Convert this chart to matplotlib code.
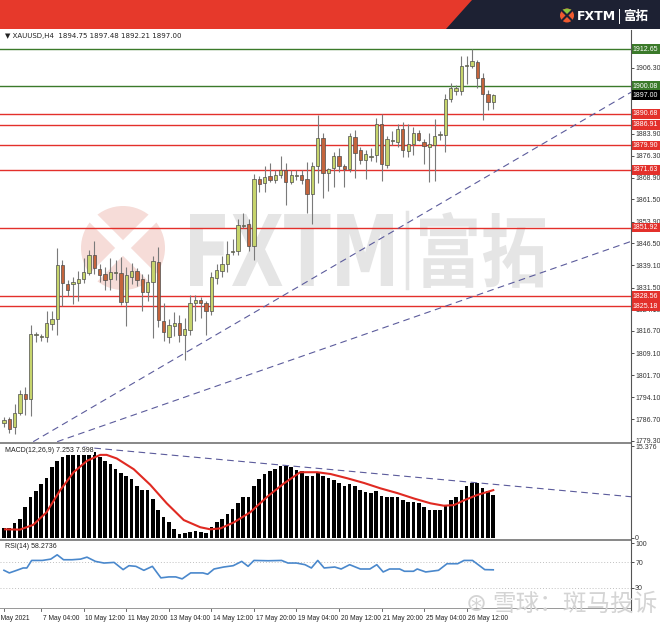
import matplotlib

matplotlib.use("Agg")
import matplotlib.pyplot as plt
from matplotlib.font_manager import FontProperties
from matplotlib.lines import Line2D
from matplotlib.patches import Circle, PathPatch, Polygon, Rectangle
from matplotlib.textpath import TextPath
from matplotlib.transforms import Affine2D, IdentityTransform

W, H = 660, 623

# XAUUSD H4 candles, 6 May 00:00 .. 27 May
opens = [1785.5, 1786.8, 1784.0, 1788.6, 1795.3, 1793.7, 1815.4, 1814.6, 1814.6, 1819.0,
         1820.8, 1839.0, 1832.8, 1832.8, 1833.1, 1834.3, 1836.4, 1842.5, 1837.9, 1836.2,
         1834.3, 1836.5, 1836.4, 1826.7, 1835.1, 1837.0, 1834.5, 1830.1, 1833.3, 1840.2,
         1820.2, 1814.8, 1818.3, 1819.4, 1815.3, 1817.2, 1826.2, 1827.3, 1826.2, 1823.6,
         1834.8, 1837.0, 1839.4, 1843.6, 1843.8, 1852.6, 1853.3, 1845.8, 1868.4, 1867.0,
         1869.5, 1868.1, 1869.7, 1871.6, 1867.6, 1869.4, 1869.9, 1868.4, 1863.3, 1872.8,
         1882.5, 1870.5, 1872.2, 1876.2, 1872.8, 1871.7, 1882.8, 1878.3, 1874.8, 1876.1,
         1876.6, 1887.1, 1873.2, 1881.5, 1881.1, 1885.4, 1877.9, 1880.4, 1884.2, 1881.1,
         1879.4, 1880.0, 1883.5, 1883.6, 1895.6, 1898.3, 1898.3, 1907.0, 1907.0, 1908.4,
         1903.0, 1897.3, 1894.75]
highs = [1787.5, 1787.5, 1791.8, 1796.5, 1797.5, 1818.6, 1816.5, 1815.6, 1823.5, 1823.5,
         1845.0, 1841.0, 1834.2, 1835.0, 1837.0, 1841.5, 1844.3, 1847.4, 1839.5, 1838.4,
         1841.5, 1840.9, 1841.9, 1838.5, 1839.7, 1838.0, 1836.0, 1836.2, 1842.4, 1845.2,
         1826.2, 1820.7, 1823.3, 1822.2, 1821.0, 1828.8, 1829.0, 1828.2, 1827.0, 1836.8,
         1839.5, 1842.4, 1847.4, 1848.0, 1854.8, 1857.0, 1854.8, 1870.3, 1869.5, 1872.9,
         1873.9, 1871.6, 1876.4, 1874.0, 1871.6, 1871.5, 1871.6, 1874.2, 1874.3, 1890.4,
         1884.2, 1872.3, 1877.8, 1879.0, 1873.5, 1884.2, 1885.0, 1879.2, 1878.5, 1879.0,
         1889.4, 1890.5, 1883.0, 1884.8, 1887.3, 1887.7, 1887.3, 1886.1, 1885.0, 1882.2,
         1884.0, 1889.0, 1884.8, 1897.3, 1901.3, 1900.3, 1910.4, 1910.5, 1912.65, 1909.0,
         1904.5, 1898.9, 1897.48]
lows = [1784.1, 1782.0, 1781.6, 1788.0, 1788.0, 1787.7, 1813.0, 1813.3, 1812.8, 1817.0,
        1815.2, 1825.2, 1828.5, 1826.0, 1827.0, 1833.0, 1835.8, 1836.0, 1833.3, 1830.8,
        1830.8, 1834.0, 1825.4, 1818.3, 1832.6, 1832.0, 1823.4, 1827.0, 1814.3, 1818.0,
        1813.3, 1812.5, 1815.1, 1812.9, 1806.7, 1815.3, 1820.2, 1821.0, 1815.5, 1822.0,
        1832.6, 1835.2, 1836.9, 1842.5, 1842.5, 1851.8, 1844.0, 1841.0, 1864.2, 1864.0,
        1867.4, 1867.0, 1868.9, 1859.7, 1866.6, 1868.0, 1866.6, 1857.0, 1853.0, 1867.0,
        1862.0, 1864.3, 1865.9, 1870.8, 1865.9, 1870.7, 1868.9, 1873.5, 1868.4, 1874.5,
        1874.1, 1867.9, 1872.3, 1880.0, 1879.4, 1875.8, 1875.8, 1876.5, 1881.5, 1873.6,
        1867.5, 1867.9, 1881.7, 1877.6, 1894.6, 1897.2, 1897.2, 1900.9, 1906.3, 1899.6,
        1888.4, 1892.0, 1892.21]
closes = [1786.3, 1783.4, 1788.6, 1795.1, 1793.6, 1815.6, 1815.8, 1814.8, 1819.4, 1820.8,
          1839.1, 1833.0, 1830.8, 1833.5, 1834.5, 1836.9, 1842.5, 1838.0, 1835.8, 1833.9,
          1836.9, 1836.7, 1826.6, 1835.6, 1837.0, 1833.9, 1830.1, 1833.5, 1840.4, 1820.4,
          1816.2, 1818.8, 1819.4, 1815.3, 1817.4, 1826.3, 1827.3, 1826.2, 1823.6, 1835.1,
          1837.4, 1839.6, 1842.8, 1843.9, 1852.8, 1852.9, 1845.8, 1868.4, 1866.6, 1869.3,
          1868.1, 1869.9, 1871.6, 1867.6, 1869.9, 1869.6, 1868.1, 1863.3, 1872.8, 1882.5,
          1870.5, 1872.0, 1876.2, 1872.8, 1871.7, 1883.1, 1877.3, 1874.8, 1877.1, 1876.3,
          1887.1, 1873.4, 1882.2, 1881.7, 1885.4, 1878.2, 1880.4, 1884.2, 1881.9, 1879.6,
          1880.3, 1883.1, 1883.7, 1895.6, 1899.6, 1899.4, 1907.0, 1907.3, 1908.7, 1902.9,
          1897.3, 1894.8, 1897.00]

green_levels = [1912.65, 1900.08]
red_levels = [1890.68, 1886.91, 1879.90, 1871.63, 1851.92, 1828.56, 1825.18]
last_price = 1897.00
price_ticks = [1906.30, 1883.90, 1876.30, 1868.90, 1861.50, 1853.90, 1846.50, 1839.10,
               1831.50, 1824.10, 1816.70, 1809.10, 1801.70, 1794.10, 1786.70, 1779.30]

trend_a_x = [5.5, 117.9]
trend_a_y = [1779.0, 1898.0]
trend_b_x = [10.0, 117.9]
trend_b_y = [1779.0, 1847.2]

macd_hist = [1.62, 1.62, 2.45, 3.1, 5.2, 6.8, 7.9, 9.0, 10.0, 11.9,
             12.9, 13.5, 13.9, 14.3, 14.6, 14.8, 14.7, 14.3, 13.5, 12.9,
             12.4, 11.5, 10.8, 10.4, 9.8, 8.7, 8.1, 8.1, 6.5, 4.7,
             3.5, 2.6, 1.45, 0.67, 0.9, 1.0, 1.1, 1.0, 0.9, 1.8,
             2.6, 3.1, 4.0, 4.8, 5.9, 6.9, 6.9, 8.7, 9.8, 10.7,
             11.2, 11.6, 12.0, 12.0, 11.8, 11.4, 11.2, 10.4, 10.4, 10.9,
             10.4, 10.0, 9.7, 9.2, 8.7, 9.0, 8.7, 8.1, 7.7, 7.5,
             7.9, 7.0, 6.9, 6.9, 6.9, 6.4, 6.0, 6.0, 5.8, 5.2,
             4.7, 4.7, 4.7, 5.5, 6.4, 6.9, 8.1, 8.7, 9.2, 9.2,
             8.3, 7.9, 7.25]
signal_x = [0.2, 3.0, 5.5, 8.0, 10.5, 13.1, 15.6, 18.1, 19.3, 21.2, 24.4, 27.5, 30.6,
            33.8, 36.9, 38.8, 40.7, 43.2, 46.3, 49.5, 52.6, 55.7, 58.9, 61.4, 64.5,
            67.7, 70.8, 74.0, 77.1, 80.2, 82.7, 84.6, 86.5, 89.0, 92.0]
signal_y = [1.45, 1.4, 2.2, 4.3, 7.9, 11.0, 12.9, 13.9, 13.9, 13.3, 11.5, 8.9, 5.8,
            3.0, 1.8, 1.45, 1.6, 2.6, 4.3, 6.9, 9.1, 11.0, 11.0, 10.7, 10.0,
            9.2, 8.3, 7.5, 6.6, 5.8, 5.4, 5.5, 6.3, 7.2, 8.0]
macd_trend_x = [14.9, 117.9]
macd_trend_y = [15.2, 6.9]

rsi_x = [0, 1, 2.4, 3.6, 4.3, 5.2, 7.2, 8.8, 10.0, 11.2, 12.8, 14.4, 15.6, 17.2, 18.8,
         20.7, 22.4, 23.5, 24.8, 26.3, 27.9, 29.5, 31.0, 32.3, 33.5, 35.1, 37.4, 38.3,
         39.5, 41.3, 43.1, 44.7, 45.9, 47.0, 49.7, 52.2, 53.4, 55.0, 56.6, 57.8, 59.0,
         60.2, 62.2, 63.4, 65.0, 67.0, 68.8, 70.1, 71.3, 72.5, 74.4, 75.3, 77.0, 77.7,
         79.3, 81.7, 83.3, 85.3, 86.5, 88.1, 90.4, 92.0]
rsi_y = [57.5, 53.4, 57.5, 61.2, 61.2, 73.1, 73.1, 75.2, 82.0, 74.2, 74.2, 75.2, 78.3,
         71.6, 69.0, 70.0, 58.6, 64.8, 63.8, 57.5, 63.8, 45.6, 47.1, 47.1, 44.0, 53.4,
         53.4, 51.3, 59.6, 62.7, 64.8, 71.6, 63.8, 73.1, 72.6, 73.1, 69.0, 69.0, 66.4,
         61.2, 73.1, 61.2, 62.7, 59.6, 66.4, 59.6, 59.6, 66.4, 54.9, 59.6, 59.6, 56.0,
         56.0, 59.6, 54.9, 57.5, 67.9, 67.9, 73.1, 73.1, 58.6, 58.3]
rsi_levels = [70, 30]

date_idx = [0, 7, 15, 23, 31, 39, 47, 55, 63, 71, 79, 87]
date_labels = ["6 May 2021", "7 May 04:00", "10 May 12:00", "11 May 20:00", "13 May 04:00",
               "14 May 12:00", "17 May 20:00", "19 May 04:00", "20 May 12:00",
               "21 May 20:00", "25 May 04:00", "26 May 12:00"]

BULL = "#c6d46c"
BEAR = "#c4643c"
EDGE = "#4d4d4d"
WICK = "#7a7a7a"
GREEN_LINE = "#3b7a2a"
RED_LINE = "#e3302b"
TREND = "#5c5c9c"
WM = "#e5e5e5"
LABEL_FONT = "Liberation Sans"
CJK = ["Noto Sans CJK SC", "DejaVu Sans"]
PX = IdentityTransform()
XLIM = (-0.75, 117.9)


def rect(x0, y0, x1, y1):
    # pixel box (top-left origin) -> figure fraction
    return [x0 / W, 1 - y1 / H, (x1 - x0) / W, (y1 - y0) / H]


def style_panel(ax):
    ax.set_xlim(*XLIM)
    for side in ("top", "bottom", "left", "right"):
        ax.spines[side].set_visible(False)
    ax.yaxis.tick_right()
    ax.tick_params(axis="y", labelsize=5, length=2, pad=1, colors="#333333", width=0.6)
    for lab in ax.get_yticklabels():
        lab.set_family(LABEL_FONT)
    ax.set_xticks([])


def fitted_text(ax, s, box, prop, color, zorder):
    # text drawn as a path squeezed into a pixel box (x0, top, x1, bottom)
    path = TextPath((0, 0), s, size=1, prop=prop)
    ext = path.get_extents()
    x0, top, x1, bot = box
    sx = (x1 - x0) / ext.width
    sy = (bot - top) / ext.height
    tr = Affine2D().translate(-ext.x0, -ext.y0).scale(sx, sy).translate(x0, H - bot) + PX
    ax.add_patch(PathPatch(path, transform=tr, color=color, lw=0, zorder=zorder))


fig = plt.figure(figsize=(W / 100, H / 100), dpi=100)
fig.patch.set_facecolor("white")

# header banner
bg = fig.add_axes([0, 0, 1, 1])
bg.set_xlim(0, W)
bg.set_ylim(H, 0)
bg.axis("off")
bg.add_patch(Rectangle((0, 0), W, 29, color="#e6392b", lw=0))
bg.add_patch(Polygon([(472, 0), (W, 0), (W, 29), (446, 29)], closed=True,
                     color="#1d2133", lw=0))
bg.add_patch(Circle((567, 15.5), 7, color="#ef5a2f", lw=0))
bg.add_patch(Polygon([(561.5, 10), (567, 15.5), (572.5, 10), (567, 8.5)], color="#8cc63f", lw=0))
bg.plot([561.5, 572.5], [10, 21], color="#1d2133", lw=1.5)
bg.plot([572.5, 561.5], [10, 21], color="#1d2133", lw=1.5)
bg.text(577, 16, "FXTM", color="white", fontsize=9, fontweight="bold",
        va="center", ha="left", family="DejaVu Sans")
bg.plot([619, 619], [9, 23], color="white", lw=0.7)
bg.text(623, 16, "富拓", color="white", fontsize=9, fontweight="bold",
        va="center", ha="left", family=CJK)

# price panel
ax = fig.add_axes(rect(0, 30, 631, 443))
ax.set_ylim(1778.55, 1919.2)
ax.set_yticks(price_ticks)
ax.set_yticklabels([f"{v:.2f}" for v in price_ticks])
style_panel(ax)

# big faded watermark
ax.add_patch(Circle((123, H - 248), 42, transform=PX, color="#f6dcd8", lw=0, zorder=0.2))
ax.add_line(Line2D([93, 153], [H - 218, H - 278], transform=PX, color="white", lw=8, zorder=0.3))
ax.add_line(Line2D([93, 153], [H - 278, H - 218], transform=PX, color="white", lw=8, zorder=0.3))
fitted_text(ax, "FXTM", (190, 214, 393, 286), FontProperties(family="DejaVu Sans", weight="bold"), WM, 0.2)
ax.add_line(Line2D([407, 407], [H - 212, H - 288], transform=PX, color=WM, lw=2.5, zorder=0.2))
fitted_text(ax, "富拓", (420, 212, 545, 288), FontProperties(family=CJK[0], weight="bold"), WM, 0.2)

for lv in green_levels:
    ax.axhline(lv, color=GREEN_LINE, lw=1.0, zorder=1)
for lv in red_levels:
    ax.axhline(lv, color=RED_LINE, lw=1.0, zorder=1)

ax.plot(trend_a_x, trend_a_y, color=TREND, lw=0.8, dashes=(6, 4), zorder=1.5)
ax.plot(trend_b_x, trend_b_y, color=TREND, lw=0.8, dashes=(6, 4), zorder=1.5)

idx = list(range(len(opens)))
ax.vlines(idx, lows, highs, color=WICK, lw=0.8, zorder=2)
bottoms = [min(o, c) for o, c in zip(opens, closes)]
heights = [max(abs(c - o), 0.3) for o, c in zip(opens, closes)]
colors = [BULL if c >= o else BEAR for o, c in zip(opens, closes)]
ax.bar(idx, heights, bottom=bottoms, width=0.62, color=colors, edgecolor=EDGE,
       linewidth=0.5, zorder=3)

ax.text(5, H - 36, "\u25bc XAUUSD,H4  1894.75 1897.48 1892.21 1897.00", transform=PX,
        fontsize=5, color="#222222", va="center", ha="left")

box_kw = dict(transform=ax.get_yaxis_transform(), fontsize=5, color="white", va="center",
              ha="left", clip_on=False, zorder=10, family=LABEL_FONT)
for lv in green_levels:
    ax.text(1.003, lv, f"{lv:.2f}", bbox=dict(boxstyle="square,pad=0.2", fc=GREEN_LINE, ec="none"), **box_kw)
for lv in red_levels:
    ax.text(1.003, lv, f"{lv:.2f}", bbox=dict(boxstyle="square,pad=0.2", fc=RED_LINE, ec="none"), **box_kw)
ax.text(1.003, last_price, f"{last_price:.2f}", bbox=dict(boxstyle="square,pad=0.2", fc="black", ec="none"), **box_kw)

# MACD panel
axm = fig.add_axes(rect(0, 444, 631, 539))
axm.set_ylim(-0.17, 15.72)
axm.set_yticks([15.376, 0])
axm.set_yticklabels(["15.376", "0"])
style_panel(axm)
axm.bar(idx, macd_hist, width=0.68, color="black", zorder=2)
axm.plot(signal_x, signal_y, color="#e02a22", lw=1.5, zorder=3)
axm.plot(macd_trend_x, macd_trend_y, color=TREND, lw=0.8, dashes=(6, 4), zorder=1.5)
axm.text(5, H - 451, "MACD(12,26,9) 7.253 7.998", transform=PX, fontsize=5, color="#222222",
         va="center", ha="left", zorder=5, family=LABEL_FONT,
         bbox=dict(boxstyle="square,pad=0.1", fc="white", ec="none"))

# RSI panel
axr = fig.add_axes(rect(0, 541, 631, 608))
axr.set_ylim(-2, 103.8)
axr.set_yticks([100, 70, 30])
axr.set_yticklabels(["100", "70", "30"])
style_panel(axr)
for lv in rsi_levels:
    axr.axhline(lv, color="#c0c0c0", lw=0.7, ls=(0, (1, 2)), zorder=1)
axr.plot(rsi_x, rsi_y, color="#4a88cc", lw=1.2, zorder=3)
axr.text(5, H - 546, "RSI(14) 58.2736", transform=PX, fontsize=5, color="#222222",
         va="center", ha="left", family=LABEL_FONT)

for i, lab in zip(date_idx, date_labels):
    xpos = i - 1.6 if i == 0 else i + 0.3
    axr.text(xpos, -0.1, lab, transform=axr.get_xaxis_transform(), fontsize=4.8,
             color="#222222", va="top", ha="left", clip_on=False, family=LABEL_FONT)
    axr.add_line(Line2D([i, i], [0, -0.04], transform=axr.get_xaxis_transform(),
                        color="#555555", lw=0.6, clip_on=False))

# corner watermark
fig.text(466 / W, 1 - 604 / H, "\u229b", fontsize=18, color="#d4d4d4",
         va="center", ha="left", family="DejaVu Sans", zorder=6)
fig.text(492 / W, 1 - 604 / H, "雪球：斑马投诉", fontsize=17, color="#d4d4d4",
         va="center", ha="left", family=CJK, zorder=6)

# panel separators and right scale line
for y0 in (443, 540):
    fig.add_artist(Rectangle((0, H - y0 - 1), 631, 2, transform=PX, color="#8a8a8a", lw=0))
fig.add_artist(Rectangle((0, H - 609), 631, 1, transform=PX, color="#9a9a9a", lw=0))
fig.add_artist(Line2D([631, 631], [H - 30, H - 610], transform=PX, color="#555555", lw=0.8))

fig.savefig("out.png", dpi=100)
